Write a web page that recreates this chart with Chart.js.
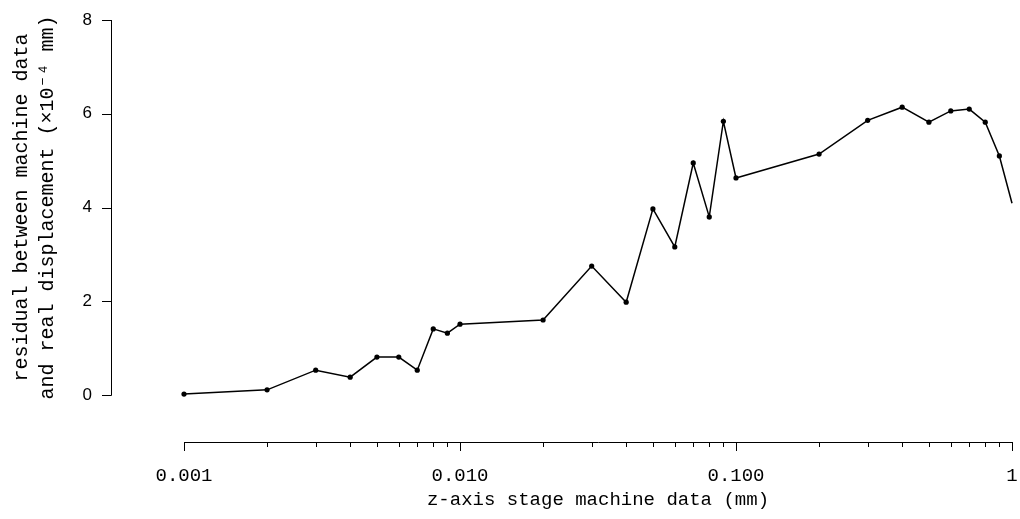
<!DOCTYPE html>
<html>
<head>
<meta charset="utf-8">
<script src="https://cdn.jsdelivr.net/npm/chart.js@4.4.1/dist/chart.umd.min.js"></script>
<style>
  html, body { margin: 0; padding: 0; background: #fff; }
  #wrap { width: 1020px; height: 519px; }
</style>
</head>
<body>
<div id="wrap"><canvas id="myChart" width="1020" height="519"></canvas></div>
<script>
// stage positions (mm) and residuals (x1e-4 mm)
const zData = [0.001, 0.002, 0.003, 0.004, 0.005, 0.006, 0.007, 0.008, 0.009,
               0.01, 0.02, 0.03, 0.04, 0.05, 0.06, 0.07, 0.08, 0.09,
               0.1, 0.2, 0.3, 0.4, 0.5, 0.6, 0.7, 0.8, 0.9, 1];
const residual = [0.02, 0.11, 0.53, 0.38, 0.81, 0.81, 0.53, 1.41, 1.32,
                  1.51, 1.60, 2.75, 1.98, 3.97, 3.16, 4.95, 3.80, 5.84,
                  4.63, 5.14, 5.86, 6.14, 5.82, 6.06, 6.10, 5.82, 5.10, 4.09];

const xTickValues = [0.001, 0.01, 0.1, 1];
const xTickLabels = ['0.001', '0.010', '0.100', '1'];
const yTickValues = [0, 2, 4, 6, 8];

const monoFont = '"Liberation Mono", "DejaVu Sans Mono", monospace';

// R-style axes: drawn a little away from the plot region
const detachedAxes = {
    id: 'detachedAxes',
    afterDraw(chart) {
        const ctx = chart.ctx;
        const xs = chart.scales.x;
        const ys = chart.scales.y;
        const axisX = chart.chartArea.left - 73;
        const axisY = chart.chartArea.bottom + 47;

        ctx.save();
        ctx.strokeStyle = '#000';
        ctx.lineWidth = 1;
        ctx.beginPath();

        // y axis
        const yTop = ys.getPixelForValue(yTickValues[yTickValues.length - 1]);
        const yBot = ys.getPixelForValue(yTickValues[0]);
        ctx.moveTo(axisX + 0.5, Math.round(yTop));
        ctx.lineTo(axisX + 0.5, Math.round(yBot) + 0.5);
        yTickValues.forEach(v => {
            const py = Math.round(ys.getPixelForValue(v)) + 0.5;
            ctx.moveTo(axisX + 0.5, py);
            ctx.lineTo(axisX - 9, py);
        });

        // x axis with decade and minor ticks
        const xLeft = xs.getPixelForValue(xTickValues[0]);
        const xRight = xs.getPixelForValue(xTickValues[xTickValues.length - 1]);
        ctx.moveTo(Math.round(xLeft), axisY + 0.5);
        ctx.lineTo(Math.round(xRight) + 1, axisY + 0.5);
        xTickValues.forEach(v => {
            const px = Math.round(xs.getPixelForValue(v)) + 0.5;
            ctx.moveTo(px, axisY);
            ctx.lineTo(px, axisY + 9);
        });
        for (let d = 0; d < xTickValues.length - 1; d++) {
            for (let k = 2; k <= 9; k++) {
                const px = Math.round(xs.getPixelForValue(xTickValues[d] * k)) + 0.5;
                ctx.moveTo(px, axisY);
                ctx.lineTo(px, axisY + 5);
            }
        }
        ctx.stroke();
        ctx.restore();
    }
};

const ctx = document.getElementById('myChart').getContext('2d');
const myChart = new Chart(ctx, {
    type: 'line',
    data: {
        labels: zData,
        datasets: [{
            data: zData.map((z, i) => ({ x: z, y: residual[i] })),
            borderColor: '#000',
            backgroundColor: '#000',
            borderWidth: 1.5,
            pointRadius: zData.map((z, i) => i === zData.length - 1 ? 0 : 2.6),
            pointBorderWidth: 0,
            tension: 0,
            fill: false,
            clip: false
        }]
    },
    options: {
        responsive: false,
        animation: false,
        devicePixelRatio: 1,
        layout: { padding: { top: 20, right: 8, left: 0, bottom: 0 } },
        plugins: {
            legend: { display: false },
            tooltip: { enabled: false }
        },
        scales: {
            x: {
                type: 'logarithmic',
                min: 0.001,
                max: 1,
                grid: { display: false, drawTicks: false },
                border: { display: false },
                afterFit(scale) {
                    scale.height = 124;
                    scale.paddingLeft = 0;
                    scale.paddingRight = 0;
                },
                afterBuildTicks(scale) {
                    scale.ticks = xTickValues.map(v => ({ value: v }));
                },
                ticks: {
                    autoSkip: false,
                    maxRotation: 0,
                    padding: 70,
                    color: '#000',
                    font: { family: monoFont, size: 19 },
                    callback: (value) => xTickLabels[xTickValues.indexOf(value)]
                },
                title: {
                    display: true,
                    text: 'z-axis stage machine data (mm)',
                    color: '#000',
                    font: { family: monoFont, size: 19 },
                    padding: { top: 0, bottom: 8 }
                }
            },
            y: {
                min: 0,
                max: 8,
                grid: { display: false, drawTicks: false },
                border: { display: false },
                afterFit(scale) {
                    scale.width = 184;
                    scale.paddingTop = 0;
                    scale.paddingBottom = 0;
                },
                afterBuildTicks(scale) {
                    scale.ticks = yTickValues.map(v => ({ value: v }));
                },
                ticks: {
                    padding: 92,
                    color: '#000',
                    font: { family: '"Liberation Sans", Arial, sans-serif', size: 17 }
                },
                title: {
                    display: true,
                    text: ['residual between machine data', 'and real displacement (×10⁻⁴ mm)'],
                    color: '#000',
                    font: { family: monoFont, size: 20, lineHeight: 1.3 },
                    padding: { top: 9, bottom: 0 }
                }
            }
        }
    },
    plugins: [detachedAxes]
});
</script>
</body>
</html>
